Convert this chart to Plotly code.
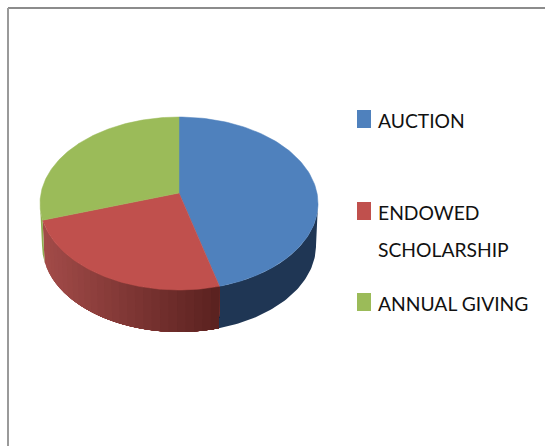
import numpy as np
import plotly.graph_objects as go

categories = ["AUCTION", "ENDOWED SCHOLARSHIP", "ANNUAL GIVING"]
values = [45.3, 26.6, 28.1]
legend_lines = [["AUCTION"], ["ENDOWED", "SCHOLARSHIP"], ["ANNUAL GIVING"]]
top_colors = ["#4F81BD", "#C0504D", "#9BBB59"]
wall_from = ["#1F3654", "#A34C49", "#8FAD50"]
wall_to = ["#1F3654", "#5A2120", "#8FAD50"]

W, H = 545, 446
APEX = (179, 193)
CX, CY, RX, RY = 179, 203.5, 139, 86.5
BX, BY = 137, 86.5
DEPTH = 42


def hex_rgb(c):
    return np.array([int(c[i:i + 2], 16) for i in (1, 3, 5)], float)


def rim(t):
    return CX + RX * np.sin(t), CY - RY * np.cos(t)


def base(t):
    return CX + BX * np.sin(t), CY + DEPTH - BY * np.cos(t)


fig = go.Figure()
edges = np.concatenate([[0], np.cumsum(values)]) / sum(values) * 2 * np.pi

# side walls (front half of the pie only); each strip runs on to the end of the
# wedge and the next one paints over it, so no seams show between the shades
for i in range(len(values)):
    a, b = max(edges[i], np.pi / 2), min(edges[i + 1], 3 * np.pi / 2)
    if b <= a:
        continue
    n = 1 if wall_from[i] == wall_to[i] else max(2, int((b - a) / 0.06))
    ts = np.linspace(a, b, n + 1)
    xs = rim(ts)[0]
    xmin, xmax = xs.min(), xs.max()
    c0, c1 = hex_rgb(wall_from[i]), hex_rgb(wall_to[i])
    # the red wall darkens from the left edge toward the right edge: paint it right-to-left
    order = range(n) if i != 1 else range(n - 1, -1, -1)
    for k in order:
        if i == 1:
            s = np.linspace(a, ts[k + 1], 60)
        else:
            s = np.linspace(ts[k], b, 60)
        xt, yt = rim(s)
        xb, yb = base(s[::-1])
        f = (rim(ts[k:k + 2])[0].mean() - xmin) / max(xmax - xmin, 1)
        col = c0 + (c1 - c0) * f
        color = "rgb(%d,%d,%d)" % tuple(col)
        fig.add_trace(go.Scatter(
            x=np.r_[xt, xb], y=np.r_[yt, yb], mode="lines", fill="toself",
            fillcolor=color, line=dict(width=0),
            hoverinfo="skip", showlegend=False))

# top face
for i, name in enumerate(categories):
    s = np.linspace(edges[i], edges[i + 1], 120)
    xt, yt = rim(s)
    fig.add_trace(go.Scatter(
        x=np.r_[APEX[0], xt, APEX[0]], y=np.r_[APEX[1], yt, APEX[1]],
        mode="lines", fill="toself", fillcolor=top_colors[i],
        line=dict(width=0.5, color=top_colors[i]), name=name,
        hoverinfo="name", showlegend=False))

shapes = [
    dict(type="line", x0=8, x1=W, y0=8, y1=8, line=dict(color="#8C8C8C", width=2)),
    dict(type="line", x0=8, x1=8, y0=8, y1=H, line=dict(color="#9A9A9A", width=2)),
]
annotations = []
swatch_tops = [110, 202, 293]
line_centers = [[120], [212, 249], [303]]
for i in range(3):
    shapes.append(dict(type="rect", x0=357, x1=371, y0=swatch_tops[i], y1=swatch_tops[i] + 18,
                       fillcolor=top_colors[i], line=dict(width=0)))
    for txt, yc in zip(legend_lines[i], line_centers[i]):
        annotations.append(dict(x=377, y=yc, text=txt, showarrow=False, xanchor="left", yanchor="middle",
                                xshift=-1,
                                font=dict(family="Lato, sans-serif", size=19.3, color="#111111")))

fig.update_layout(
    width=W, height=H, margin=dict(l=0, r=0, t=0, b=0), autosize=False,
    paper_bgcolor="white", plot_bgcolor="white", showlegend=False,
    xaxis=dict(range=[0, W], visible=False, fixedrange=True),
    yaxis=dict(range=[H, 0], visible=False, fixedrange=True),
    shapes=shapes, annotations=annotations,
)
fig.write_html("out.html", config=dict(displayModeBar=False),
               post_script="document.body.style.margin='0';document.body.style.overflow='hidden';")
